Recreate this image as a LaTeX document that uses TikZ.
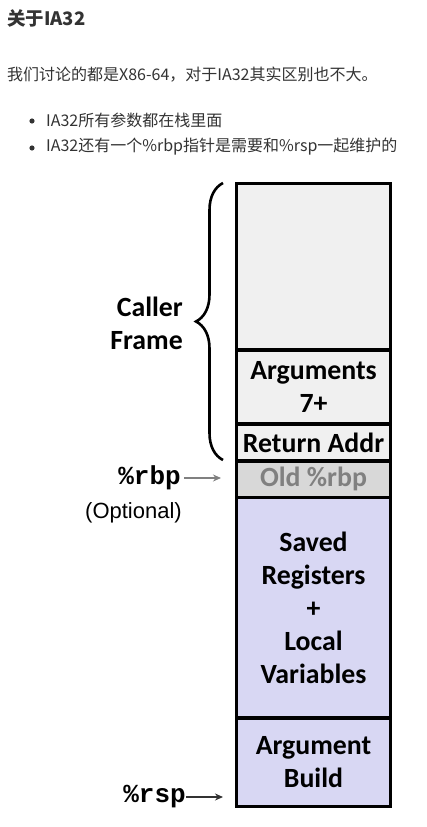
\documentclass[tikz,border=0pt]{standalone}
\usepackage{fontspec}
\setmainfont{Carlito}
\newfontfamily\cjk{Noto Sans CJK SC}
\newfontfamily\arial{Liberation Sans}
\newfontfamily\cour{Liberation Mono}
\usetikzlibrary{decorations.pathreplacing, arrows.meta, calc}
\definecolor{framegray}{RGB}{240,240,240}
\definecolor{oldgray}{RGB}{216,216,216}
\definecolor{oldtext}{RGB}{128,128,128}
\definecolor{lavender}{RGB}{216,215,243}
\definecolor{webtext}{RGB}{51,51,51}
\tikzstyle{cell}=[draw, line width=3.6pt, minimum width=154pt, inner sep=0pt, align=center, font=\fontsize{27.8}{33}\selectfont\bfseries]
\tikzstyle{web}=[anchor=west, inner sep=0pt, text=webtext, font=\cjk\fontsize{16}{20}\selectfont]
\tikzstyle{reg}=[anchor=east, inner sep=0pt, font=\cour\bfseries\fontsize{26}{30}\selectfont]
\tikzstyle{ptr}=[line width=2pt, -{Stealth[length=8pt, width=7pt]}]

\begin{document}
\begin{tikzpicture}[x=1pt, y=-1pt]
    \useasboundingbox[fill=white] (0,0) rectangle (427,827);
    \node[web, font=\cjk\bfseries\fontsize{18.5}{22}\selectfont] (title) at (7,18) {关于IA32};
    \node[web] (intro) at (7,75) {我们讨论的都是X86-64，对于IA32其实区别也不大。};
    \node[web] (item1) at (46,120) {IA32所有参数都在栈里面};
    \node[web] (item2) at (46,147) {IA32还有一个\%rbp指针是需要和\%rsp一起维护的};
    \fill[webtext] (32,121) circle (2.6);
    \fill[webtext] (32,148) circle (2.6);
    \node[cell, fill=framegray, minimum height=166.5pt] (caller) at (313.5,266.75) {};
    \node[cell, fill=framegray, minimum height=74pt] (args) at (313.5,387) {Arguments\\7+};
    \node[cell, fill=framegray, minimum height=37pt] (ret) at (313.5,442.5) {Return Addr};
    \node[cell, fill=oldgray, text=oldtext, minimum height=36.5pt] (old) at (313.5,479.25) {Old \%rbp};
    \node[cell, fill=lavender, minimum height=220.5pt] (saved) at (313.5,607.75) {Saved\\Registers\\+\\Local\\Variables};
    \node[cell, fill=lavender, minimum height=88.5pt] (build) at (313.5,762.25) {Argument\\Build};
    \coordinate (bt) at (223,183);
    \coordinate (bb) at (223,460);
    \draw[line width=2.6pt, decorate, decoration={brace, amplitude=27pt}] (bb) -- (bt);
    \node[anchor=east, align=right, inner sep=0pt, font=\fontsize{27.8}{33}\selectfont\bfseries] (cf) at (183,323) {Caller\\Frame};
    \node[reg] (rbp) at (181,478) {\%rbp};
    \node[anchor=east, inner sep=0pt, font=\arial\fontsize{22}{26}\selectfont] (opt) at (182,513) {(Optional)};
    \node[reg] (rsp) at (186,797) {\%rsp};
    \coordinate (rbpend) at (221,478);
    \coordinate (rspend) at (223,797);
    \draw[ptr, oldtext] (rbp.east) ++(3,0) -- (rbpend);
    \draw[ptr, black!80] (rsp.east) -- (rspend);
\end{tikzpicture}
\end{document}
